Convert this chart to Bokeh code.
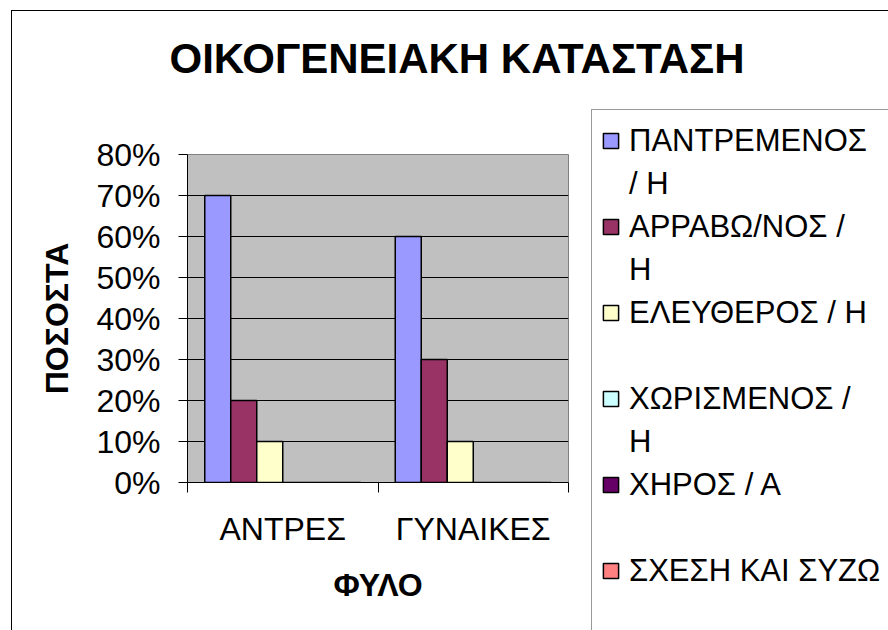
from bokeh.plotting import figure
from bokeh.layouts import column, row
from bokeh.models import (Range1d, FixedTicker, NumeralTickFormatter, Legend, LegendItem,
                          Label, ColumnDataSource)
from bokeh.core.properties import value
from bokeh.embed import file_html
from bokeh.resources import INLINE

# ---------------- data ----------------
title_text = "ΟΙΚΟΓΕΝΕΙΑΚΗ ΚΑΤΑΣΤΑΣΗ"
x_title = "ΦΥΛΟ"
y_title = "ΠΟΣΟΣΤΑ"
categories = ["ΑΝΤΡΕΣ", "ΓΥΝΑΙΚΕΣ"]
series_names = ["ΠΑΝΤΡΕΜΕΝΟΣ / Η", "ΑΡΡΑΒΩ/ΝΟΣ / Η", "ΕΛΕΥΘΕΡΟΣ / Η",
                "ΧΩΡΙΣΜΕΝΟΣ / Η", "ΧΗΡΟΣ / Α", "ΣΧΕΣΗ ΚΑΙ ΣΥΖΩ"]
legend_lines = [["ΠΑΝΤΡΕΜΕΝΟΣ", "/ Η"], ["ΑΡΡΑΒΩ/ΝΟΣ /", "Η"], ["ΕΛΕΥΘΕΡΟΣ / Η", " "],
                ["ΧΩΡΙΣΜΕΝΟΣ /", "Η"], ["ΧΗΡΟΣ / Α", " "], ["ΣΧΕΣΗ ΚΑΙ ΣΥΖΩ", " "]]
married = [0.70, 0.60]
engaged = [0.20, 0.30]
single = [0.10, 0.10]
separated = [0.0, 0.0]
widowed = [0.0, 0.0]
relationship = [0.0, 0.0]
series_values = [married, engaged, single, separated, widowed, relationship]
series_colors = ["#9999FF", "#993366", "#FFFFCC", "#CCFFFF", "#660066", "#FF8080"]
y_ticks = [0.0, 0.1, 0.2, 0.3, 0.4, 0.5, 0.6, 0.7, 0.8]

# ---------------- layout (window px) ----------------
OX, OY = 12, 11                # content origin inside the window (after the outer border)
ROW_Y = 105                    # window y where the plot row starts
SPLIT_X = 590                  # window x where the legend panel starts
FL, FR, FT, FB = 187, 568, 154, 482   # plot frame, window px
FONT = "Liberation Sans"

TW, TH = 888 - OX, ROW_Y - OY
MW, MH = SPLIT_X - OX, 630 - ROW_Y
LW, LHt = 888 - SPLIT_X, 630 - ROW_Y

# ---- title strip ----
pt = figure(width=TW, height=TH, output_backend="svg", toolbar_location=None, title=None,
            x_axis_location=None, y_axis_location=None, min_border=0,
            x_range=Range1d(0, 1), y_range=Range1d(0, 1))
pt.outline_line_color = None
pt.background_fill_color = "white"
pt.border_fill_color = "white"
pt.grid.visible = False
pt.add_layout(Label(x=169 - OX, y=47, x_units="screen", y_units="screen",
                    text=title_text, text_align="left", text_baseline="alphabetic",
                    text_font=FONT, text_font_size="42px", text_font_style="bold",
                    text_color="black"))

# ---- main chart ----
p = figure(width=MW, height=MH, output_backend="svg", toolbar_location=None, title=None,
           x_range=Range1d(0, len(categories)), y_range=Range1d(y_ticks[0], y_ticks[-1]),
           min_border_left=FL - OX, min_border_right=MW - (FR - OX),
           min_border_top=FT - ROW_Y, min_border_bottom=MH - (FB - ROW_Y))
p.background_fill_color = "#C0C0C0"
p.border_fill_color = "white"
p.outline_line_color = "#808080"
p.outline_line_width = 1

n = len(series_values)
bar_w = 0.1365
sources = []
for i, (vals, col) in enumerate(zip(series_values, series_colors)):
    xs = [k + 0.5 + (i - (n - 1) / 2) * bar_w for k in range(len(categories))]
    src = ColumnDataSource(dict(x=xs, top=vals))
    sources.append(src)
    p.vbar(x="x", top="top", bottom=0, width=bar_w, source=src,
           fill_color=col, line_color="black", line_width=1.5)

p.xgrid.visible = False
p.ygrid.ticker = FixedTicker(ticks=y_ticks)
p.ygrid.grid_line_color = "black"
p.ygrid.grid_line_width = 1

ya = p.yaxis[0]
ya.ticker = FixedTicker(ticks=y_ticks)
ya.formatter = NumeralTickFormatter(format="0%")
ya.axis_line_color = "black"
ya.major_tick_line_color = "black"
ya.major_tick_out = 9
ya.major_tick_in = 0
ya.minor_tick_line_color = None
ya.major_label_text_font = FONT
ya.major_label_text_font_size = "32px"
ya.major_label_text_color = "black"
ya.major_label_standoff = 18
ya.axis_label = y_title
ya.axis_label_text_font = FONT
ya.axis_label_text_font_size = "32px"
ya.axis_label_text_font_style = "bold"
ya.axis_label_text_color = "black"
ya.axis_label_standoff = 18

xa = p.xaxis[0]
centers = [k + 0.5 for k in range(len(categories))]
bounds = [float(k) for k in range(len(categories) + 1)]
xa.ticker = FixedTicker(ticks=centers, minor_ticks=bounds)
xa.major_label_overrides = {c: lab for c, lab in zip(centers, categories)}
xa.axis_line_color = "black"
xa.major_tick_line_color = None
xa.major_tick_out = 0
xa.major_tick_in = 0
xa.minor_tick_line_color = "black"
xa.minor_tick_out = 10
xa.minor_tick_in = 0
xa.major_label_text_font = FONT
xa.major_label_text_font_size = "32px"
xa.major_label_text_color = "black"
xa.major_label_standoff = 18
xa.axis_label = x_title
xa.axis_label_text_font = FONT
xa.axis_label_text_font_size = "32px"
xa.axis_label_text_font_style = "bold"
xa.axis_label_text_color = "black"
xa.axis_label_standoff = 17

# ---- legend panel (own figure; its view range lies above the data so only the legend shows) ----
pl = figure(width=LW, height=LHt, output_backend="svg", toolbar_location=None, title=None,
            x_axis_location=None, y_axis_location=None, min_border=0,
            x_range=Range1d(0, len(categories)), y_range=Range1d(5, 6))
pl.outline_line_color = None
pl.background_fill_color = "white"
pl.border_fill_color = "white"
pl.grid.visible = False
items = []
for src, col, lines in zip(sources, series_colors, legend_lines):
    key = pl.vbar(x="x", top="top", bottom=0, width=bar_w, source=src,
                  fill_color=col, line_color="black", line_width=1.5)
    items.append(LegendItem(label=value(lines[0]), renderers=[key]))
    items.append(LegendItem(label=value(lines[1]), renderers=[]))
PAD, ROWH = 9, 43
LEGH = 2 * PAD + ROWH * len(items)
leg_left, leg_top = 591, 111
legend = Legend(items=items, location=(leg_left - SPLIT_X, LHt - (leg_top - ROW_Y) - LEGH),
                ncols=1, padding=PAD, spacing=0, label_height=ROWH, glyph_height=19,
                glyph_width=19, label_standoff=9, label_width=290, label_text_font=FONT,
                label_text_font_size="31px", label_text_color="black",
                border_line_color="#333333", border_line_width=1,
                background_fill_color="white", background_fill_alpha=1.0, margin=0)
pl.add_layout(legend, "center")

layout = column(pt, row(p, column(pl, spacing=0), spacing=0), spacing=0)
layout.styles = {"margin-left": "11px", "margin-top": "10px",
                 "border-left": "1px solid #000000", "border-top": "1px solid #000000"}

open("out.html", "w").write(file_html(layout, INLINE))
